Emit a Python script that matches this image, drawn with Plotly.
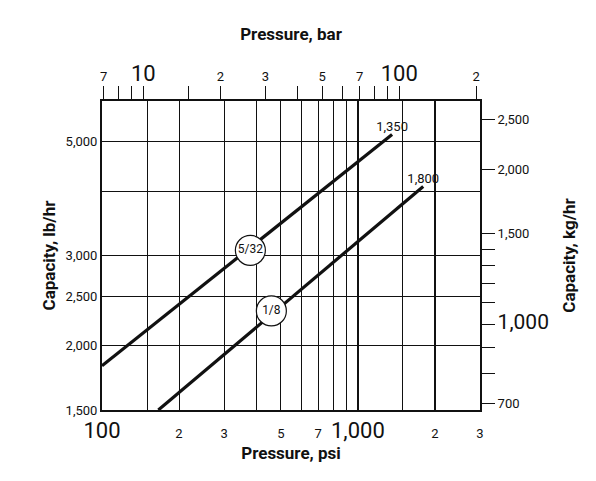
import numpy as np
import plotly.graph_objects as go

# data (psi vs lb/hr)
psi_532 = [100, 1360]
lb_532 = [1830, 5160]
psi_18 = [166, 1800]
lb_18 = [1500, 4090]

labels = ["5/32", "1/8"]
label_psi = [380, 459]
label_lb = [3070, 2340]
end_labels = ["1,350", "1,800"]

# axis ticks
psi_grid = [150, 200, 300, 400, 500, 600, 700, 800, 900, 1500]
psi_heavy = [1000, 2000]
psi_ticks = [100, 200, 300, 500, 700, 1000, 2000, 3000]
psi_text = ["100", "2", "3", "5", "7", "1,000", "2", "3"]
bar_ticks = [7, 8, 9, 10, 15, 20, 30, 40, 50, 60, 70, 80, 90, 100, 200]
bar_text = ["7", "", "", "10", "", "2", "3", "", "5", "", "7", "", "", "100", "2"]
lb_ticks = [1500, 2000, 2500, 3000, 4000, 5000]
lb_text = ["1,500", "2,000", "2,500", "3,000", "", "5,000"]
kg_ticks = [700, 800, 900, 1000, 1100, 1200, 1300, 1400, 1500, 2000, 2500]
kg_text = ["700", "", "", "1,000", "", "", "", "", "1,500", "2,000", "2,500"]

PSI_PER_BAR = 14.5038
KG_PER_LB = 0.453592
x_rng = [2, np.log10(3000)]
y_rng = [np.log10(1500), np.log10(6000)]

FONT = "Liberation Sans Narrow, Arial Narrow, Roboto, Liberation Sans, Arial"


def sized(t, big_set, big_px):
    return f"<span style='font-size:{big_px}px'>{t}</span>" if t in big_set else t


fig = go.Figure()

for xs, ys in [(psi_532, lb_532), (psi_18, lb_18)]:
    fig.add_trace(go.Scatter(x=xs, y=ys, mode="lines", line=dict(color="#111", width=3.2),
                             showlegend=False, hoverinfo="skip"))

fig.add_trace(go.Scatter(x=label_psi, y=label_lb, mode="markers+text", text=labels,
                         marker=dict(size=30, color="white", line=dict(color="#111", width=1.2)),
                         textfont=dict(size=12, family=FONT, color="#111"),
                         showlegend=False, hoverinfo="skip"))

fig.add_trace(go.Scatter(x=[psi_532[-1], psi_18[-1]], y=[lb_532[-1], lb_18[-1]],
                         mode="text", text=end_labels, textposition="top center",
                         textfont=dict(size=13, family=FONT, color="#111"),
                         showlegend=False, hoverinfo="skip"))

# invisible helpers to activate the overlay axes
fig.add_trace(go.Scatter(x=[7, 200], y=[1500, 6000], xaxis="x2", mode="markers",
                         marker=dict(opacity=0), showlegend=False, hoverinfo="skip"))
fig.add_trace(go.Scatter(x=[100, 3000], y=[700, 2500], xaxis="x3", yaxis="y2", mode="markers",
                         marker=dict(opacity=0), showlegend=False, hoverinfo="skip"))
fig.add_trace(go.Scatter(x=[100], y=[1500], xaxis="x4", mode="markers",
                         marker=dict(opacity=0), showlegend=False, hoverinfo="skip"))

fig.update_layout(
    width=596, height=481,
    margin=dict(l=94, r=124, t=93, b=79),
    plot_bgcolor="white", paper_bgcolor="white",
    font=dict(family=FONT, color="#111", size=13),
    xaxis=dict(type="log", range=x_rng, tickmode="array", tickvals=psi_ticks,
               ticktext=[sized(t, {"100", "1,000"}, 22) for t in psi_text],
               showgrid=False, showline=True, mirror=True, linecolor="#111", linewidth=2,
               ticks="", ticklabelstandoff=10, automargin=False,
               title=dict(text="<b>Pressure, psi</b>", font=dict(size=17), standoff=2)),
    xaxis3=dict(type="log", range=x_rng, overlaying="x", tickmode="array",
                tickvals=psi_grid, showticklabels=False, showgrid=True,
                gridcolor="#111", gridwidth=1.1, zeroline=False, automargin=False),
    xaxis4=dict(type="log", range=x_rng, overlaying="x", tickmode="array",
                tickvals=psi_heavy, showticklabels=False, showgrid=True,
                gridcolor="#111", gridwidth=2, zeroline=False, automargin=False),
    xaxis2=dict(type="log", range=[np.log10(100 / PSI_PER_BAR), np.log10(3000 / PSI_PER_BAR)],
                overlaying="x", side="top", anchor="y", tickmode="array", tickvals=bar_ticks,
                ticktext=[sized(t, {"10", "100"}, 22) for t in bar_text],
                ticks="outside", ticklen=14, tickcolor="#111", showgrid=False, automargin=False,
                title=dict(text="<b>Pressure, bar</b>", font=dict(size=17))),
    yaxis=dict(type="log", range=y_rng, tickmode="array", tickvals=lb_ticks, ticktext=lb_text,
               showgrid=True, gridcolor="#111", gridwidth=1.1, ticks="", automargin=False,
               showline=True, mirror=True, linecolor="#111", linewidth=2,
               title=dict(text="<b>Capacity, lb/hr</b>", font=dict(size=17), standoff=6)),
    yaxis2=dict(type="log", range=[np.log10(1500 * KG_PER_LB), np.log10(6000 * KG_PER_LB)],
                overlaying="y", side="right", anchor="x", tickmode="array", tickvals=kg_ticks,
                ticktext=[sized(t, {"1,000"}, 21) for t in kg_text], automargin=False,
                ticks="outside", ticklen=14, tickcolor="#111", showgrid=False,
                title=dict(text="<b>Capacity, kg/hr</b>", font=dict(size=17))),
)

fig.write_html("out.html")
